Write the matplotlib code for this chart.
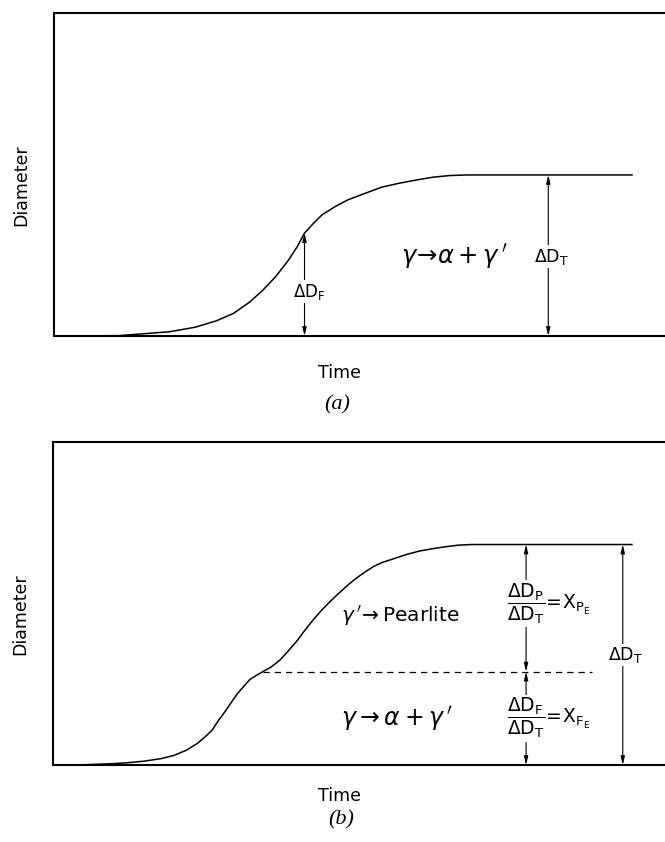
import matplotlib
matplotlib.use('Agg')
import matplotlib.pyplot as plt

plt.rcParams['font.family'] = ['DejaVu Sans']
plt.rcParams['mathtext.fontset'] = 'dejavusans'

# (a) single transformation: time / diameter (both in % of the axis range)
time_a = [0, 5.1, 10.6, 15.5, 18.9, 23.1, 26.6, 29.4, 32.1, 34.2, 36.3,
          38.4, 39.8, 41.0, 42.5, 43.9, 46.0, 48.1, 50.9, 53.6, 56.4,
          59.2, 62.0, 64.7, 67.5, 94.6]
diam_a = [0, 0, 0.1, 0.8, 1.3, 2.7, 4.7, 7.0, 10.6, 14.2, 18.4,
          23.5, 27.6, 31.8, 34.9, 37.5, 40.0, 42.1, 44.1, 46.0, 47.2,
          48.2, 49.1, 49.6, 49.8, 49.8]
df_time_a = 41.0
df_top_a = 31.8
dt_time_a = 80.9

# (b) two-stage transformation
time_b = [0, 5.2, 9.4, 12.1, 14.9, 17.7, 19.8, 21.8, 23.6, 24.9, 26.0,
          27.0, 28.1, 29.1, 30.1, 31.2, 32.2, 33.3, 34.3, 35.7, 37.1,
          38.5, 39.9, 41.2, 42.6, 44.0, 45.4, 46.8, 48.2, 49.5, 50.9,
          52.3, 53.7, 55.8, 57.9, 59.9, 62.0, 64.1, 66.2, 68.3, 94.6]
diam_b = [0, 0.1, 0.4, 0.7, 1.2, 2.0, 3.0, 4.6, 6.7, 8.8, 10.8,
          13.7, 16.5, 19.3, 22.0, 24.4, 26.5, 27.8, 28.9, 30.4, 32.5,
          35.4, 38.5, 41.8, 45.1, 48.1, 50.8, 53.3, 55.7, 57.7, 59.6,
          61.3, 62.6, 63.9, 65.2, 66.2, 66.9, 67.5, 68.0, 68.2, 68.2]
ferrite_end = 28.9
dash_start = 34.3
dash_end = 88.0
mid_time_b = 77.3
dt_time_b = 93.1

fig = plt.figure(figsize=(6.65, 8.42), dpi=100)
ax1 = fig.add_axes([0.0812, 0.601, 0.9188, 0.384])
ax2 = fig.add_axes([0.0797, 0.0914, 0.9203, 0.384])

for ax in (ax1, ax2):
    ax.set_xlim(0, 100)
    ax.set_ylim(0, 100)
    ax.set_xticks([])
    ax.set_yticks([])
    ax.spines['right'].set_visible(False)
    for s in ('left', 'top', 'bottom'):
        ax.spines[s].set_linewidth(1.5)
    ax.set_ylabel('Diameter', fontsize=12.5)
    ax.set_xlabel('Time', fontsize=12.5)
    ax.yaxis.set_label_coords(-0.039, 0.466)

ax1.xaxis.set_label_coords(0.468, -0.088)
ax2.xaxis.set_label_coords(0.468, -0.069)

arrow = dict(arrowstyle='<|-|>,head_length=0.5,head_width=0.12',
             lw=0.8, color='black', shrinkA=0, shrinkB=0)
blank = dict(facecolor='white', edgecolor='none', pad=1)

# ---- (a)
ax1.plot(time_a, diam_a, color='black', lw=1.1)
ax1.annotate('', xy=(df_time_a, 0), xytext=(df_time_a, df_top_a), arrowprops=arrow)
ax1.annotate('', xy=(dt_time_a, 0), xytext=(dt_time_a, diam_a[-1]), arrowprops=arrow)
ax1.text(df_time_a + 0.8, 13.7, r'$\Delta\mathrm{D}_\mathrm{F}$', fontsize=12,
         ha='center', va='center', bbox=blank)
ax1.text(dt_time_a + 0.5, 24.5, r'$\Delta\mathrm{D}_\mathrm{T}$', fontsize=12.5,
         ha='center', va='center', bbox=blank)
ax1.text(56.8, 24.5, r"$\gamma\!\rightarrow\!\alpha+\gamma\,'$", fontsize=17.5,
         ha='left', va='center')
fig.text(0.507, 0.519, '(a)', family='Liberation Serif', style='italic',
         fontsize=16, ha='center', va='center')

# ---- (b)
ax2.plot(time_b, diam_b, color='black', lw=1.1)
ax2.plot([dash_start, dash_end], [ferrite_end, ferrite_end], color='black',
         lw=0.9, ls=(0, (5, 4)))
ax2.annotate('', xy=(mid_time_b, ferrite_end), xytext=(mid_time_b, diam_b[-1]),
             arrowprops=arrow)
ax2.annotate('', xy=(mid_time_b, 0), xytext=(mid_time_b, ferrite_end),
             arrowprops=arrow)
ax2.annotate('', xy=(dt_time_b, 0), xytext=(dt_time_b, diam_b[-1]), arrowprops=arrow)
ax2.text(dt_time_b + 0.4, 34.0, r'$\Delta\mathrm{D}_\mathrm{T}$', fontsize=12.5,
         ha='center', va='center', bbox=blank)
ax2.text(74.2, 50.0,
         r'$\dfrac{\Delta\mathrm{D}_\mathrm{P}}{\Delta\mathrm{D}_\mathrm{T}}'
         r'\!=\!\mathrm{X}_{\mathrm{P}_\mathrm{E}}$',
         fontsize=13.5, ha='left', va='center', bbox=blank)
ax2.text(74.2, 14.5,
         r'$\dfrac{\Delta\mathrm{D}_\mathrm{F}}{\Delta\mathrm{D}_\mathrm{T}}'
         r'\!=\!\mathrm{X}_{\mathrm{F}_\mathrm{E}}$',
         fontsize=13.5, ha='left', va='center', bbox=blank)
ax2.text(47.1, 46.0, r"$\gamma\,'\!\rightarrow$Pearlite", fontsize=14.5,
         ha='left', va='center')
ax2.text(47.1, 14.4, r"$\gamma\rightarrow\alpha+\gamma\,'$", fontsize=17,
         ha='left', va='center')
fig.text(0.513, 0.026, '(b)', family='Liberation Serif', style='italic',
         fontsize=16, ha='center', va='center')

fig.savefig('out.png', dpi=100)
